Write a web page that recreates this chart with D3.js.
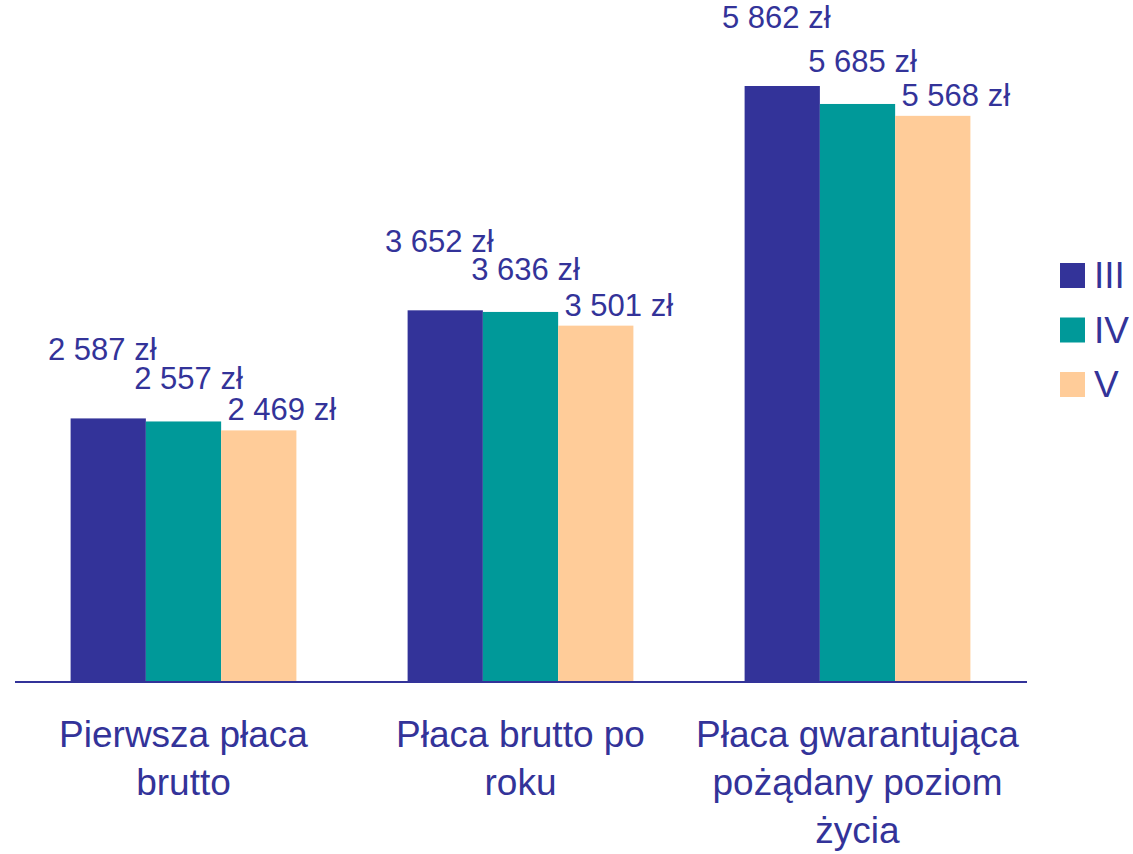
<!DOCTYPE html>
<html>
<head>
<meta charset="utf-8">
<script src="https://cdn.jsdelivr.net/npm/d3@7"></script>
<style>
  html, body { margin: 0; padding: 0; background: #ffffff; }
  svg { display: block; }
  text { font-family: "Liberation Sans", Arial, sans-serif; }
</style>
</head>
<body>
<script>
// ---- data ----
const categories = [
  ["Pierwsza płaca", "brutto"],
  ["Płaca brutto po", "roku"],
  ["Płaca gwarantująca", "pożądany poziom", "życia"]
];
const seriesNames = ["III", "IV", "V"];
const valuesIII = [2587, 3652, 5862];
const valuesIV  = [2557, 3636, 5685];
const valuesV   = [2469, 3501, 5568];

// ---- styles ----
const colors = ["#333399", "#009999", "#FFCC99"];
const labelDx = [-6, 5, 23];     // per-series label nudges
const labelDy = [-58, -32, -10];
const textColor = "#333399";

const W = 1133, H = 854;
const svg = d3.select("body").append("svg").attr("width", W).attr("height", H);

const seriesValues = [valuesIII, valuesIV, valuesV];
const catKeys = categories.map((c, i) => i);

const x0 = d3.scaleBand().domain(catKeys).range([15, 1026]).paddingInner(0.33).paddingOuter(0.165);
const x1 = d3.scaleBand().domain(seriesNames).range([0, x0.bandwidth()]);
const y = d3.scaleLinear().domain([0, 6000]).range([681, 72]);

const fmt = v => d3.format(",")(v).replace(/,/g, " ") + " zł";

const groups = svg.selectAll("g.grp").data(catKeys).join("g")
  .attr("class", "grp")
  .attr("transform", d => `translate(${x0(d)},0)`);

groups.selectAll("rect").data(ci => seriesNames.map((s, si) => ({ s, si, v: seriesValues[si][ci] })))
  .join("rect")
  .attr("x", d => x1(d.s))
  .attr("width", x1.bandwidth())
  .attr("y", d => y(d.v))
  .attr("height", d => y(0) - y(d.v))
  .attr("fill", d => colors[d.si]);

groups.selectAll("text.val").data(ci => seriesNames.map((s, si) => ({ s, si, v: seriesValues[si][ci] })))
  .join("text")
  .attr("class", "val")
  .attr("x", d => x1(d.s) + x1.bandwidth() / 2 + labelDx[d.si])
  .attr("y", d => y(d.v) + labelDy[d.si])
  .attr("text-anchor", "middle")
  .attr("font-size", 31)
  .attr("fill", textColor)
  .text(d => fmt(d.v));

// axis baseline
const xAxis = d3.axisBottom(x0).tickSize(0).tickFormat("");
const ax = svg.append("g").attr("transform", `translate(0,${y(0)})`).call(xAxis);
ax.select(".domain").attr("stroke", textColor).attr("stroke-width", 2)
  .attr("d", "M15,1H1027");

// category labels
svg.selectAll("text.cat").data(catKeys).join("text")
  .attr("class", "cat")
  .attr("x", d => x0(d) + x0.bandwidth() / 2)
  .attr("y", 747)
  .attr("text-anchor", "middle")
  .attr("font-size", 37)
  .attr("fill", textColor)
  .each(function (d) {
    const t = d3.select(this);
    categories[d].forEach((line, i) => {
      t.append("tspan")
        .attr("x", x0(d) + x0.bandwidth() / 2)
        .attr("dy", i === 0 ? 0 : 48)
        .text(line);
    });
  });

// legend
const leg = svg.append("g");
const legItems = leg.selectAll("g").data(seriesNames).join("g")
  .attr("transform", (d, i) => `translate(1060,${263 + i * 54.5})`);
legItems.append("rect").attr("width", 25).attr("height", 25).attr("fill", (d, i) => colors[i]);
legItems.append("text")
  .attr("x", 34).attr("y", 25)
  .attr("font-size", 37)
  .attr("fill", textColor)
  .text(d => d);
</script>
</body>
</html>
